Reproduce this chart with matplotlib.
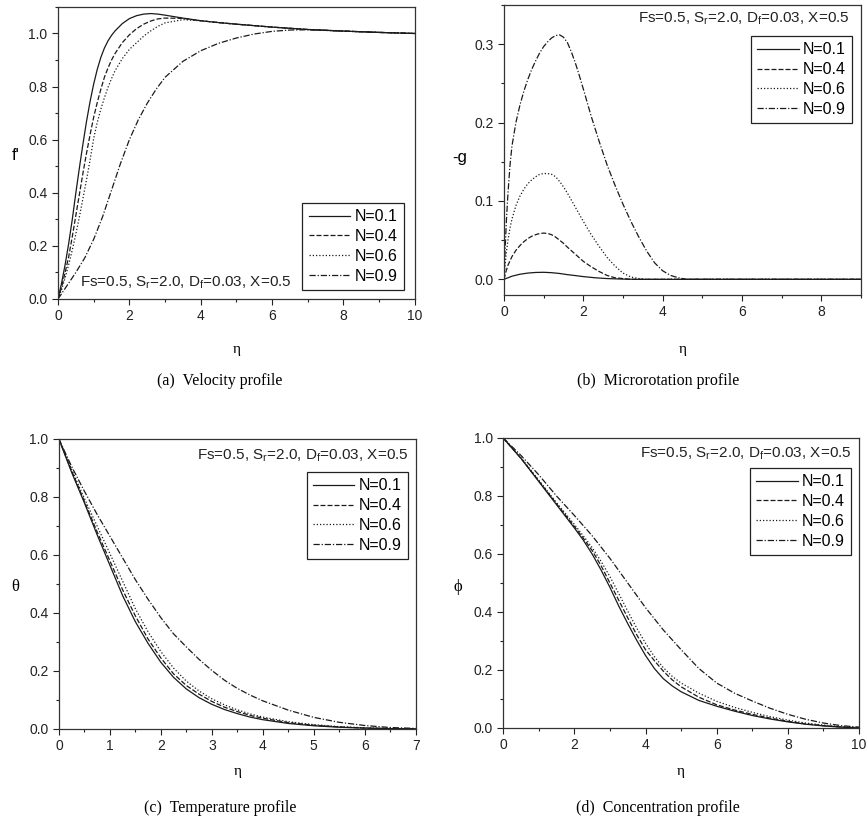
import matplotlib
matplotlib.use("Agg")
import matplotlib.pyplot as plt
from matplotlib.ticker import MultipleLocator, FormatStrFormatter

plt.rcParams['font.family'] = ['Liberation Sans', 'DejaVu Sans']
plt.rcParams['mathtext.default'] = 'regular'

labels = ["N=0.1", "N=0.4", "N=0.6", "N=0.9"]
note = r"Fs=0.5, S$_{r}$=2.0, D$_{f}$=0.03, X=0.5"

# (a) velocity profile f'
vel_eta_fine = [0, 0.1, 0.2, 0.3, 0.4, 0.5, 0.6, 0.7, 0.8, 0.9, 1.0, 1.1, 1.2, 1.3, 1.4, 1.5, 1.6,
                1.8, 2.0, 2.2, 2.4, 2.6, 2.8, 3.0, 3.5, 4, 4.5, 5, 6, 7, 8, 9, 10]
vel_n01 = [0, 0.06, 0.13, 0.21, 0.30, 0.40, 0.495, 0.585, 0.67, 0.745, 0.81, 0.865, 0.91, 0.945,
           0.972, 0.993, 1.01, 1.037, 1.056, 1.067, 1.073, 1.075, 1.073, 1.069, 1.058, 1.048, 1.041,
           1.035, 1.024, 1.015, 1.009, 1.004, 1.0]
vel_n04 = [0, 0.045, 0.1, 0.16, 0.235, 0.315, 0.395, 0.475, 0.55, 0.62, 0.685, 0.74, 0.79, 0.835,
           0.87, 0.9, 0.925, 0.965, 0.995, 1.018, 1.035, 1.047, 1.055, 1.058, 1.057, 1.048, 1.041,
           1.035, 1.024, 1.015, 1.009, 1.004, 1.0]
vel_n06 = [0, 0.035, 0.08, 0.13, 0.185, 0.245, 0.31, 0.38, 0.45, 0.525, 0.605, 0.665, 0.715, 0.758,
           0.797, 0.83, 0.86, 0.905, 0.94, 0.965, 0.99, 1.01, 1.027, 1.04, 1.052, 1.048, 1.041,
           1.035, 1.024, 1.015, 1.009, 1.004, 1.0]
vel_eta_n09 = [0, 0.25, 0.5, 0.75, 1.0, 1.25, 1.5, 1.75, 2.0, 2.25, 2.5, 2.75, 3.0, 3.5, 4, 4.5,
               5, 5.5, 6, 6.5, 7, 8, 9, 10]
vel_n09 = [0, 0.05, 0.1, 0.155, 0.225, 0.31, 0.41, 0.51, 0.6, 0.675, 0.737, 0.79, 0.835, 0.895,
           0.935, 0.963, 0.983, 0.998, 1.008, 1.013, 1.014, 1.009, 1.004, 1.0]

# (b) microrotation profile -g
mic_eta_n01 = [0, 0.2, 0.4, 0.6, 0.8, 1.0, 1.2, 1.4, 1.6, 1.8, 2.0, 2.3, 2.6, 3.0, 3.4, 9.0]
mic_n01 = [0, 0.004, 0.0065, 0.008, 0.0088, 0.009, 0.0085, 0.0075, 0.006, 0.0048, 0.0035, 0.002,
           0.001, 0.0003, 0, 0]
mic_eta_n04 = [0, 0.05, 0.1, 0.2, 0.3, 0.4, 0.5, 0.6, 0.7, 0.8, 0.9, 1.0, 1.1, 1.2, 1.3, 1.4, 1.5,
               1.6, 1.8, 2.0, 2.2, 2.4, 2.6, 2.8, 3.0, 3.2, 9.0]
mic_n04 = [0, 0.01, 0.018, 0.029, 0.037, 0.043, 0.048, 0.052, 0.055, 0.057, 0.0585, 0.059, 0.0585,
           0.057, 0.054, 0.05, 0.046, 0.041, 0.032, 0.023, 0.016, 0.01, 0.005, 0.002, 0.001, 0, 0]
mic_eta_n06 = [0, 0.03, 0.06, 0.1, 0.15, 0.2, 0.3, 0.4, 0.5, 0.6, 0.7, 0.8, 0.9, 1.0, 1.1, 1.2, 1.3,
               1.4, 1.5, 1.6, 1.7, 1.8, 2.0, 2.2, 2.4, 2.6, 2.8, 3.0, 3.2, 3.4, 3.6, 9.0]
mic_n06 = [0, 0.02, 0.035, 0.05, 0.065, 0.077, 0.094, 0.106, 0.115, 0.122, 0.127, 0.131, 0.134,
           0.135, 0.135, 0.134, 0.131, 0.125, 0.118, 0.11, 0.101, 0.092, 0.074, 0.057, 0.042, 0.028,
           0.017, 0.008, 0.003, 0.001, 0, 0]
mic_eta_n09 = [0, 0.03, 0.06, 0.1, 0.15, 0.2, 0.3, 0.4, 0.5, 0.6, 0.7, 0.8, 0.9, 1.0, 1.1, 1.2, 1.3,
               1.4, 1.5, 1.6, 1.7, 1.8, 1.9, 2.0, 2.2, 2.4, 2.6, 2.8, 3.0, 3.2, 3.4, 3.6, 3.8, 4.0,
               4.2, 4.4, 4.6, 9.0]
mic_n09 = [0, 0.04, 0.075, 0.11, 0.145, 0.17, 0.2, 0.222, 0.24, 0.255, 0.268, 0.279, 0.289, 0.297,
           0.303, 0.308, 0.311, 0.312, 0.309, 0.302, 0.29, 0.276, 0.26, 0.243, 0.208, 0.176, 0.146,
           0.12, 0.096, 0.074, 0.054, 0.036, 0.021, 0.011, 0.005, 0.002, 0, 0]

# (c) temperature profile theta
tmp_eta = [0, 0.25, 0.5, 0.75, 1.0, 1.25, 1.5, 1.75, 2.0, 2.25, 2.5, 2.75, 3.0, 3.25, 3.5, 3.75,
           4, 4.5, 5, 5.5, 6, 6.5, 7]
tmp_n01 = [1.0, 0.885, 0.78, 0.67, 0.565, 0.46, 0.37, 0.295, 0.23, 0.178, 0.138, 0.108, 0.085,
           0.067, 0.053, 0.041, 0.032, 0.019, 0.011, 0.006, 0.003, 0.0012, 0.0003]
tmp_n04 = [1.0, 0.89, 0.785, 0.68, 0.58, 0.48, 0.39, 0.31, 0.245, 0.19, 0.15, 0.12, 0.095, 0.075,
           0.06, 0.047, 0.037, 0.022, 0.013, 0.007, 0.003, 0.0013, 0.0004]
tmp_n06 = [1.0, 0.895, 0.795, 0.7, 0.605, 0.51, 0.415, 0.335, 0.267, 0.21, 0.165, 0.131, 0.104,
           0.083, 0.066, 0.052, 0.041, 0.025, 0.015, 0.008, 0.004, 0.0016, 0.0005]
tmp_n09 = [1.0, 0.905, 0.82, 0.74, 0.665, 0.59, 0.515, 0.447, 0.384, 0.328, 0.283, 0.24, 0.202,
           0.168, 0.14, 0.117, 0.097, 0.065, 0.04, 0.023, 0.012, 0.005, 0.002]

# (d) concentration profile phi
con_eta = [0, 0.5, 1, 1.5, 2, 2.25, 2.5, 2.75, 3.0, 3.25, 3.5, 3.75, 4.0, 4.25, 4.5, 4.75, 5.0,
           5.5, 6, 6.5, 7, 7.5, 8, 8.5, 9, 9.5, 10]
con_n01 = [1.0, 0.93, 0.85, 0.77, 0.69, 0.648, 0.6, 0.545, 0.485, 0.42, 0.36, 0.303, 0.25, 0.205,
           0.17, 0.145, 0.125, 0.095, 0.075, 0.058, 0.043, 0.031, 0.021, 0.013, 0.007, 0.003, 0.0]
con_n04 = [1.0, 0.93, 0.852, 0.773, 0.695, 0.655, 0.612, 0.56, 0.5, 0.44, 0.38, 0.322, 0.27, 0.232,
           0.196, 0.166, 0.142, 0.106, 0.08, 0.062, 0.047, 0.034, 0.023, 0.014, 0.008, 0.003, 0.0]
con_n06 = [1.0, 0.932, 0.855, 0.777, 0.702, 0.663, 0.622, 0.575, 0.522, 0.463, 0.403, 0.345, 0.292,
           0.246, 0.208, 0.178, 0.155, 0.12, 0.092, 0.071, 0.054, 0.039, 0.027, 0.017, 0.01, 0.004,
           0.001]
con_eta_n09 = [0, 0.5, 1, 1.5, 2, 2.5, 3.0, 3.5, 4.0, 4.5, 5.0, 5.5, 6, 6.5, 7, 7.5, 8, 8.5, 9,
               9.5, 10]
con_n09 = [1.0, 0.94, 0.873, 0.8, 0.733, 0.663, 0.585, 0.5, 0.415, 0.338, 0.27, 0.205, 0.155,
           0.12, 0.093, 0.068, 0.047, 0.03, 0.017, 0.008, 0.003]

styles = ['-', (0, (4, 1.6)), (0, (1, 1.6)), (0, (5, 1.5, 1, 1.5))]
serif = ['Liberation Serif', 'DejaVu Serif']

fig = plt.figure(figsize=(8.66, 8.25), dpi=100)

panels = [
    dict(rect=[0.067, 0.6376, 0.412, 0.354],
         xs=[vel_eta_fine, vel_eta_fine, vel_eta_fine, vel_eta_n09],
         ys=[vel_n01, vel_n04, vel_n06, vel_n09], xlim=(0, 10), ylim=(0, 1.1),
         xt=(2, 1), yt=(0.2, 0.1), yl="f'", ylser=False, ylc=(-0.12, 0.466),
         leg=(0.969, 0.031), loc='lower right', note=(0.062, 0.055), ha='left',
         cap="(a)  Velocity profile", capx=220, capy=381, etay=349),
    dict(rect=[0.582, 0.6424, 0.412, 0.3515],
         xs=[mic_eta_n01, mic_eta_n04, mic_eta_n06, mic_eta_n09],
         ys=[mic_n01, mic_n04, mic_n06, mic_n09], xlim=(0, 9), ylim=(-0.02, 0.35),
         xt=(2, 1), yt=(0.1, 0.05), yl="-g", ylser=False, ylc=(-0.123, 0.448),
         leg=(0.975, 0.893), loc='upper right', note=(0.969, 0.952), ha='right',
         cap="(b)  Microrotation profile", capx=658, capy=381, etay=349),
    dict(rect=[0.068, 0.1164, 0.412, 0.3515],
         xs=[tmp_eta] * 4, ys=[tmp_n01, tmp_n04, tmp_n06, tmp_n09], xlim=(0, 7), ylim=(0, 1.0),
         xt=(1, 0.5), yt=(0.2, 0.1), yl="θ", ylser=True, ylc=(-0.123, 0.462),
         leg=(0.978, 0.886), loc='upper right', note=(0.980, 0.941), ha='right',
         cap="(c)  Temperature profile", capx=220, capy=808, etay=772),
    dict(rect=[0.581, 0.1176, 0.411, 0.3515],
         xs=[con_eta, con_eta, con_eta, con_eta_n09], ys=[con_n01, con_n04, con_n06, con_n09],
         xlim=(0, 10), ylim=(0, 1.0),
         xt=(2, 1), yt=(0.2, 0.1), yl="ϕ", ylser=True, ylc=(-0.126, 0.459),
         leg=(0.978, 0.897), loc='upper right', note=(0.978, 0.945), ha='right',
         cap="(d)  Concentration profile", capx=658, capy=808, etay=772),
]

for p in panels:
    ax = fig.add_axes(p['rect'])
    for xs, ys, ls, lab in zip(p['xs'], p['ys'], styles, labels):
        ax.plot(xs, ys, linestyle=ls, color='#1a1a1a', linewidth=0.9, label=lab)
    ax.set_xlim(*p['xlim'])
    ax.set_ylim(*p['ylim'])
    ax.xaxis.set_major_locator(MultipleLocator(p['xt'][0]))
    ax.xaxis.set_minor_locator(MultipleLocator(p['xt'][1]))
    ax.yaxis.set_major_locator(MultipleLocator(p['yt'][0]))
    ax.yaxis.set_minor_locator(MultipleLocator(p['yt'][1]))
    ax.yaxis.set_major_formatter(FormatStrFormatter('%.1f'))
    ax.xaxis.set_major_formatter(FormatStrFormatter('%d'))
    ax.tick_params(which='major', direction='out', length=4, width=0.8, labelsize=10, colors='#222222')
    ax.tick_params(which='minor', direction='out', length=2.5, width=0.8, colors='#222222')
    for s in ax.spines.values():
        s.set_linewidth(0.9)
        s.set_color('#333333')

    if p['ylser']:
        ax.set_ylabel(p['yl'], rotation=0, fontsize=12, family=serif)
    else:
        ax.set_ylabel(p['yl'], rotation=0, fontsize=12)
    ax.yaxis.set_label_coords(*p['ylc'])

    leg = ax.legend(loc=p['loc'], bbox_to_anchor=p['leg'], borderaxespad=0, fontsize=11.5,
                    frameon=True, fancybox=False, edgecolor='#222222', framealpha=1,
                    handlelength=2.6, handletextpad=0.25, labelspacing=0.3, borderpad=0.4)
    leg.get_frame().set_linewidth(0.9)

    ax.text(p['note'][0], p['note'][1], note, transform=ax.transAxes, ha=p['ha'], va='center',
            fontsize=11, color='#222222')

    # eta label and caption under each panel
    cx = p['rect'][0] + p['rect'][2] / 2
    fig.text(cx, 1 - p['etay'] / 825, "η", ha='center', va='center', fontsize=11, family=serif)
    fig.text(p['capx'] / 866, 1 - p['capy'] / 825, p['cap'], ha='center', va='center',
             fontsize=11.5, family=serif)

fig.savefig("out.png", dpi=100)
